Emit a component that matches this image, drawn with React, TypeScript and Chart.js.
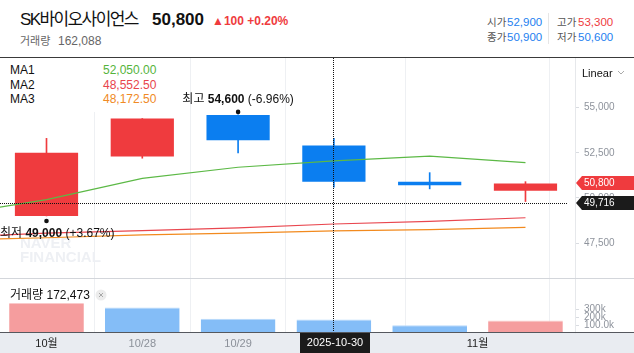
import React, { useEffect, useRef } from 'react';
import { Chart, registerables } from 'chart.js';

Chart.register(...registerables);

// ---------- data ----------
const dates = ['2025-10-27', '2025-10-28', '2025-10-29', '2025-10-30', '2025-10-31', '2025-11-03'];
const opens = [49000, 52300, 54600, 52900, 50900, 50400];
const highs = [53300, 54400, 54600, 53300, 51400, 50900];
const lows = [49000, 52200, 52500, 50600, 50500, 49800];
const closes = [52500, 54400, 53200, 50900, 50700, 50800];
const volumes = [386000, 327000, 185000, 172473, 99000, 162088];
// moving averages; first entry belongs to the previous (off-screen) trading day
const maX = [-1, 0, 1, 2, 3, 4, 5];
const ma1 = [49050, 49900, 51080, 51700, 52050, 52320, 51950];
const ma2 = [47820, 48050, 48190, 48340, 48552.5, 48700, 48900];
const ma3 = [47670, 47790, 47950, 48050, 48172.5, 48240, 48370];
const xTickPositions = [0, 1, 2, 3, 4.5];
const xTickLabels = ['10월', '10/28', '10/29', '10/30', '11월'];
const priceTicks = [47500, 50000, 52500, 55000];
const volumeTicks = [100000, 200000, 300000];
const volumeTickLabels = ['100.0k', '200k', '300k'];
const crosshairIndex = 3;
const crosshairPrice = 49716;

const FONT = "'Liberation Sans', 'Noto Sans CJK KR', sans-serif";
const RED = '#ef3b3e';
const BLUE = '#0b7ef0';
const VOL_RED = '#f59d9e';
const VOL_BLUE = '#84bdf7';
const GREEN_MA = '#5cb946';
const RED_MA = '#e9474f';
const ORANGE_MA = '#f28a1e';

const fmt = (v: number) => v.toLocaleString('en-US');

const zeroPad = (s: any) => {
  s.paddingTop = 0;
  s.paddingBottom = 0;
  s.paddingLeft = 0;
  s.paddingRight = 0;
};

export default function App() {
  const ref = useRef<HTMLCanvasElement>(null);

  useEffect(() => {
    const canvas = ref.current!;
    Chart.defaults.font.family = FONT;
    const candleColors = opens.map((o, i) => (closes[i] >= o ? RED : BLUE));
    const volColors = volumes.map((v, i) => (i === 0 || v >= volumes[i - 1] ? VOL_RED : VOL_BLUE));
    const volTop = volumes.map((v, i) => (i === 0 || v >= volumes[i - 1] ? '#fac9ca' : '#b9dafb'));

    const overlay = {
      id: 'overlay',
      beforeDraw(chart: any) {
        const { ctx } = chart;
        const xs = chart.scales.x;
        ctx.save();
        ctx.fillStyle = '#e9ecf1';
        ctx.fillRect(0, xs.top, chart.width, chart.height - xs.top);
        ctx.restore();
      },
      beforeDatasetsDraw(chart: any) {
        const { ctx } = chart;
        const ys = chart.scales.y;
        ctx.save();
        ctx.fillStyle = '#eef0f4';
        ctx.font = `bold 15px ${FONT}`;
        ctx.textAlign = 'left';
        ctx.textBaseline = 'alphabetic';
        ctx.fillText('NAVER', 20, ys.bottom - 30);
        ctx.fillText('FINANCIAL', 20, ys.bottom - 16);
        ctx.restore();
      },
      afterDatasetsDraw(chart: any) {
        const { ctx, chartArea } = chart;
        const xs = chart.scales.x;
        const ys = chart.scales.y;
        ctx.save();
        // pane separator
        ctx.lineWidth = 1;
        ctx.strokeStyle = '#d3d6db';
        const sy = Math.round(ys.bottom) + 0.5;
        ctx.beginPath();
        ctx.moveTo(0, sy);
        ctx.lineTo(chart.width, sy);
        ctx.stroke();
        // band top line
        ctx.strokeStyle = '#55585e';
        const by = Math.round(xs.top) - 0.5;
        ctx.beginPath();
        ctx.moveTo(0, by);
        ctx.lineTo(chart.width, by);
        ctx.stroke();

        // crosshair
        ctx.strokeStyle = '#111';
        ctx.setLineDash([1, 1]);
        const cx = Math.floor(xs.getPixelForValue(crosshairIndex)) + 0.5;
        ctx.beginPath();
        ctx.moveTo(cx, chartArea.top);
        ctx.lineTo(cx, xs.top - 1);
        ctx.stroke();
        const hy = Math.floor(ys.getPixelForValue(crosshairPrice)) + 0.5;
        ctx.beginPath();
        ctx.moveTo(0, hy);
        ctx.lineTo(chartArea.right - 8, hy);
        ctx.stroke();
        ctx.setLineDash([]);

        // high / low markers
        const hiIdx = highs.indexOf(Math.max(...highs));
        const loIdx = lows.indexOf(Math.min(...lows));
        const last = closes[closes.length - 1];
        const drawMark = (idx: number, value: number, label: string, above: boolean) => {
          const x = xs.getPixelForValue(idx);
          const py = ys.getPixelForValue(value);
          const dy = above ? py - 3 : py + 5;
          ctx.fillStyle = '#111';
          ctx.beginPath();
          ctx.arc(x, dy, 2.3, 0, Math.PI * 2);
          ctx.fill();
          const pct = ((last / value - 1) * 100);
          const parts = [
            { t: label + ' ', f: `12px ${FONT}` },
            { t: fmt(value), f: `bold 12px ${FONT}` },
            { t: ' (' + (pct >= 0 ? '+' : '') + pct.toFixed(2) + '%)', f: `12px ${FONT}` },
          ];
          let total = 0;
          const widths = parts.map((p) => {
            ctx.font = p.f;
            const w = ctx.measureText(p.t).width;
            total += w;
            return w;
          });
          let tx = Math.max(0, Math.min(x - total / 2, chartArea.right - total));
          const ty = above ? dy - 12.5 : dy + 12.5;
          ctx.textBaseline = 'middle';
          ctx.textAlign = 'left';
          parts.forEach((p, i) => {
            ctx.font = p.f;
            ctx.fillText(p.t, tx, ty);
            tx += widths[i];
          });
        };
        drawMark(hiIdx, highs[hiIdx], '최고', true);
        drawMark(loIdx, lows[loIdx], '최저', false);

        // price tags on right axis
        const drawTag = (v: number, bg: string) => {
          const y = Math.round(ys.getPixelForValue(v));
          const x0 = chartArea.right;
          ctx.fillStyle = bg;
          ctx.beginPath();
          ctx.moveTo(x0 + 1, y);
          ctx.lineTo(x0 + 7, y - 7);
          ctx.lineTo(chart.width, y - 7);
          ctx.lineTo(chart.width, y + 7);
          ctx.lineTo(x0 + 7, y + 7);
          ctx.closePath();
          ctx.fill();
          ctx.fillStyle = '#fff';
          ctx.font = `10px ${FONT}`;
          ctx.textBaseline = 'middle';
          ctx.textAlign = 'left';
          ctx.fillText(fmt(v), x0 + 9, y + 0.5);
        };
        drawTag(last, RED);
        drawTag(crosshairPrice, '#1b1b1b');

        // crosshair date tag
        const dx = Math.round(xs.getPixelForValue(crosshairIndex));
        ctx.fillStyle = '#1b1b1b';
        ctx.fillRect(dx - 34, xs.top, 70, chart.height - xs.top);
        ctx.fillStyle = '#fff';
        ctx.font = `11px ${FONT}`;
        ctx.textAlign = 'center';
        ctx.textBaseline = 'middle';
        ctx.fillText(dates[crosshairIndex], dx + 1, xs.top + 10);
        ctx.restore();
      },
    };

    const chart = new Chart(canvas, {
      data: {
        datasets: [
          {
            type: 'line',
            yAxisID: 'y',
            data: maX.map((x, i) => ({ x, y: ma1[i] })),
            borderColor: GREEN_MA,
            borderWidth: 1.2,
            pointRadius: 0,
            tension: 0,
          },
          {
            type: 'line',
            yAxisID: 'y',
            data: maX.map((x, i) => ({ x, y: ma2[i] })),
            borderColor: RED_MA,
            borderWidth: 1.2,
            pointRadius: 0,
            tension: 0,
          },
          {
            type: 'line',
            yAxisID: 'y',
            data: maX.map((x, i) => ({ x, y: ma3[i] })),
            borderColor: ORANGE_MA,
            borderWidth: 1.2,
            pointRadius: 0,
            tension: 0,
          },
          {
            type: 'bar',
            yAxisID: 'y',
            data: dates.map((_, i) => ({ x: i, y: [opens[i], closes[i]] })),
            backgroundColor: candleColors,
            grouped: false,
            categoryPercentage: 1,
            barPercentage: 0.66,
            borderWidth: 0,
          },
          {
            type: 'bar',
            yAxisID: 'y',
            data: dates.map((_, i) => ({ x: i, y: [lows[i], highs[i]] })),
            backgroundColor: candleColors,
            grouped: false,
            barThickness: 1,
            borderWidth: 0,
          },
          {
            type: 'bar',
            yAxisID: 'vol',
            data: dates.map((_, i) => ({ x: i, y: volumes[i] })),
            backgroundColor: volColors,
            borderColor: volTop,
            borderWidth: { top: 1, left: 0, right: 0, bottom: 0 },
            borderSkipped: false,
            grouped: false,
            categoryPercentage: 1,
            barPercentage: 0.78,
          },
        ] as any,
      },
      options: {
        responsive: false,
        devicePixelRatio: 1,
        animation: false,
        events: [],
        layout: { padding: 0 },
        plugins: { legend: { display: false }, tooltip: { enabled: false } },
        scales: {
          x: {
            type: 'linear',
            position: 'bottom',
            min: -0.4854,
            max: 5.517,
            offset: false,
            afterBuildTicks: (s: any) => {
              s.ticks = xTickPositions.map((value) => ({ value }));
            },
            afterFit: (s: any) => {
              s.height = 20;
              zeroPad(s);
            },
            grid: { color: '#eef0f3', drawTicks: false, lineWidth: 1 },
            border: { display: false },
            ticks: {
              autoSkip: false,
              maxRotation: 0,
              padding: 4,
              font: { size: 11 },
              color: (c: any) => (c.tick && (c.tick.value === 0 || c.tick.value === 4.5) ? '#222' : '#8b9099'),
              callback: (v: any) => {
                const k = xTickPositions.indexOf(Number(v));
                return k >= 0 ? xTickLabels[k] : '';
              },
            },
          },
          y: {
            type: 'linear',
            position: 'right',
            stack: 'panes',
            stackWeight: 220,
            min: 45560,
            max: 57755,
            afterBuildTicks: (s: any) => {
              s.ticks = priceTicks.map((value) => ({ value }));
            },
            afterFit: (s: any) => {
              s.width = 59;
              zeroPad(s);
            },
            grid: { drawOnChartArea: false, drawTicks: true, tickLength: 4, color: '#d9dce1' },
            border: { display: true, color: '#e6e8eb' },
            ticks: {
              autoSkip: false,
              padding: 5,
              font: { size: 10 },
              color: '#8e939c',
              callback: (v: any) => fmt(Number(v)),
            },
          },
          vol: {
            type: 'linear',
            position: 'right',
            stack: 'panes',
            stackWeight: 55,
            min: 0,
            max: 708000,
            afterBuildTicks: (s: any) => {
              s.ticks = volumeTicks.map((value) => ({ value }));
            },
            afterFit: (s: any) => {
              s.width = 59;
              zeroPad(s);
            },
            grid: { drawOnChartArea: false, drawTicks: true, tickLength: 4, color: '#d9dce1' },
            border: { display: true, color: '#e6e8eb' },
            ticks: {
              autoSkip: false,
              padding: 5,
              font: { size: 10 },
              color: '#8e939c',
              callback: (v: any) => {
                const k = volumeTicks.indexOf(Number(v));
                return k >= 0 ? volumeTickLabels[k] : '';
              },
            },
          },
        } as any,
      },
      plugins: [overlay],
    } as any);
    return () => chart.destroy();
  }, []);

  const n = closes.length;
  const last = closes[n - 1];
  const chg = last - closes[n - 2];
  const chgPct = (chg / closes[n - 2]) * 100;
  const prevC = closes[crosshairIndex - 1];
  const cc = (v: number) => (v > prevC ? RED : v < prevC ? '#1e7ff0' : '#333');
  const maVals = [ma1, ma2, ma3].map((a) => a[crosshairIndex + 1]);
  const maColors = ['#55b43b', '#e8444c', '#f08a25'];

  const abs = (left: number, top: number, extra: any = {}) => ({
    position: 'absolute' as const,
    left,
    top,
    whiteSpace: 'nowrap' as const,
    ...extra,
  });

  return (
    <div
      style={{
        position: 'absolute',
        left: 0,
        top: 0,
        width: 634,
        height: 353,
        overflow: 'hidden',
        background: '#fff',
        fontFamily: FONT,
        color: '#111',
      }}
    >
      {/* header */}
      <div style={abs(20, 10, { fontSize: 17, lineHeight: '20px', letterSpacing: '-1.6px' })}>SK바이오사이언스</div>
      <div style={abs(152, 10, { fontSize: 17, lineHeight: '20px', fontWeight: 'bold' })}>{fmt(last)}</div>
      <div style={abs(212, 14, { fontSize: 12, lineHeight: '14px', fontWeight: 'bold', color: RED })}>
        {(chg >= 0 ? '▲' : '▼') + fmt(Math.abs(chg)) + ' ' + (chg >= 0 ? '+' : '') + chgPct.toFixed(2) + '%'}
      </div>
      <div style={abs(20, 34, { fontSize: 11, lineHeight: '14px', color: '#666' })}>거래량</div>
      <div style={abs(58, 34, { fontSize: 12, lineHeight: '14px', color: '#666' })}>{fmt(volumes[n - 1])}</div>

      <div style={abs(487, 15, { fontSize: 10.5, lineHeight: '14px', color: '#555' })}>시가</div>
      <div style={abs(507, 15, { fontSize: 11.5, lineHeight: '14px', color: cc(opens[crosshairIndex]) })}>{fmt(opens[crosshairIndex])}</div>
      <div style={abs(487, 30, { fontSize: 10.5, lineHeight: '14px', color: '#555' })}>종가</div>
      <div style={abs(507, 30, { fontSize: 11.5, lineHeight: '14px', color: cc(closes[crosshairIndex]) })}>{fmt(closes[crosshairIndex])}</div>
      <div style={abs(548, 13, { width: 1, height: 31, background: '#e6e6e6' })} />
      <div style={abs(557, 15, { fontSize: 10.5, lineHeight: '14px', color: '#555' })}>고가</div>
      <div style={abs(578, 15, { fontSize: 11.5, lineHeight: '14px', color: cc(highs[crosshairIndex]) })}>{fmt(highs[crosshairIndex])}</div>
      <div style={abs(557, 30, { fontSize: 10.5, lineHeight: '14px', color: '#555' })}>저가</div>
      <div style={abs(578, 30, { fontSize: 11.5, lineHeight: '14px', color: cc(lows[crosshairIndex]) })}>{fmt(lows[crosshairIndex])}</div>

      <div style={abs(0, 57, { width: 634, height: 1, background: '#3a3a3a' })} />

      <canvas ref={ref} width={634} height={295} style={{ position: 'absolute', left: 0, top: 58, width: 634, height: 295 }} />

      {/* MA legend */}
      <div style={abs(0, 58, { width: 170, height: 54, background: '#fff' })} />
      {['MA1', 'MA2', 'MA3'].map((m, i) => (
        <React.Fragment key={m}>
          <div style={abs(10, 63 + i * 14.5, { fontSize: 12, lineHeight: '14px' })}>{m}</div>
          <div style={abs(103, 63 + i * 14.5, { fontSize: 12, lineHeight: '14px', color: maColors[i] })}>
            {maVals[i].toLocaleString('en-US', { minimumFractionDigits: 2, maximumFractionDigits: 2 })}
          </div>
        </React.Fragment>
      ))}

      {/* scale mode */}
      <div style={abs(582, 66, { fontSize: 11, lineHeight: '14px' })}>Linear</div>
      <svg style={abs(617, 70)} width={8} height={6}>
        <polyline points="1,1 4,4 7,1" fill="none" stroke="#aaa" strokeWidth={1} />
      </svg>

      {/* volume label */}
      <div style={abs(10, 288, { fontSize: 12, lineHeight: '14px' })}>거래량 {fmt(volumes[crosshairIndex])}</div>
      <svg style={abs(95, 289)} width={12} height={12}>
        <circle cx={6} cy={6} r={5.5} fill="#ececec" />
        <path d="M4 4 L8 8 M8 4 L4 8" stroke="#a8a8a8" strokeWidth={1} />
      </svg>
    </div>
  );
}
